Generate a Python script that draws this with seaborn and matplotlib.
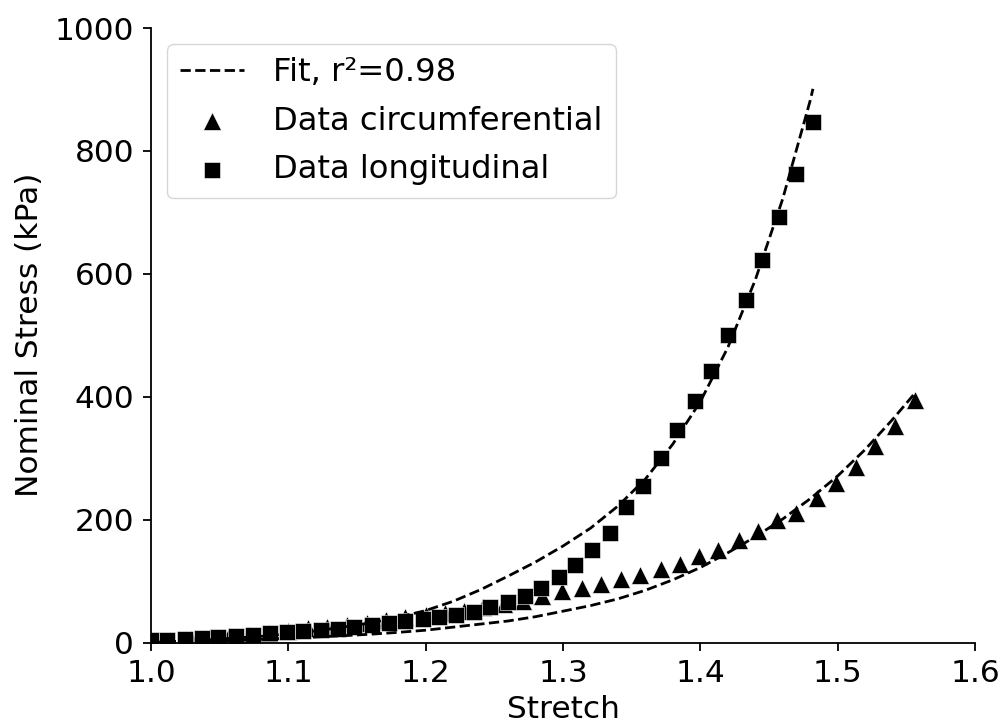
import numpy as np
import pandas as pd
import matplotlib
matplotlib.use("Agg")
import matplotlib.pyplot as plt
import seaborn as sns

# ---------------- data ----------------
# longitudinal data (squares)
long_stretch = [1.000, 1.012, 1.025, 1.037, 1.049, 1.062, 1.074, 1.087, 1.099, 1.111,
                1.124, 1.136, 1.148, 1.161, 1.173, 1.185, 1.198, 1.210, 1.222, 1.235,
                1.247, 1.260, 1.272, 1.284, 1.297, 1.309, 1.321, 1.334, 1.346, 1.358,
                1.371, 1.383, 1.396, 1.408, 1.420, 1.433, 1.445, 1.457, 1.470, 1.482]
long_stress = [4, 4, 5, 7, 9, 11, 13, 15, 17, 18,
               20, 22, 25, 28, 31, 35, 38, 41, 45, 50,
               58, 66, 75, 88, 106, 126, 151, 179, 221, 255,
               300, 346, 393, 442, 500, 558, 623, 693, 763, 847]

# circumferential data (triangles)
circ_stretch = [1.000, 1.014, 1.029, 1.043, 1.057, 1.071, 1.086, 1.100, 1.114, 1.128,
                1.143, 1.157, 1.171, 1.185, 1.200, 1.214, 1.228, 1.242, 1.257, 1.271,
                1.285, 1.299, 1.314, 1.328, 1.342, 1.356, 1.371, 1.385, 1.399, 1.413,
                1.428, 1.442, 1.456, 1.470, 1.485, 1.499, 1.513, 1.527, 1.542, 1.556]
circ_stress = [2, 4, 6, 8, 10, 13, 16, 19, 23, 26,
               28, 32, 36, 41, 45, 48, 52, 57, 63, 68,
               76, 83, 88, 96, 103, 110, 119, 128, 140, 151,
               166, 182, 200, 211, 235, 259, 286, 319, 353, 395]

# fit curves (dashed)
fit_long_stretch = [1.00, 1.02, 1.04, 1.06, 1.08, 1.10, 1.12, 1.14, 1.16, 1.18,
                    1.20, 1.22, 1.24, 1.26, 1.28, 1.30, 1.32, 1.34, 1.36, 1.38,
                    1.40, 1.42, 1.44, 1.46, 1.48, 1.482]
fit_long_stress = [0, 2, 4, 7, 10, 14, 19, 25, 32, 41,
                   52, 67, 86, 108, 131, 157, 186, 222, 266, 323,
                   392, 480, 590, 722, 882, 901]

fit_circ_stretch = [1.00, 1.02, 1.04, 1.06, 1.08, 1.10, 1.12, 1.14, 1.16, 1.18,
                    1.20, 1.22, 1.24, 1.26, 1.28, 1.30, 1.32, 1.34, 1.36, 1.38,
                    1.40, 1.42, 1.44, 1.46, 1.48, 1.50, 1.52, 1.54, 1.556]
fit_circ_stress = [0, 1, 2, 3.5, 5, 7, 9, 11, 13.5, 16.5,
                   20, 25, 30, 35, 42, 51, 60, 71, 85, 102,
                   122, 146, 172, 201, 234, 271, 314, 363, 405]

fit_label = "Fit, r²=0.98"
circ_label = "Data circumferential"
long_label = "Data longitudinal"
x_ticks = [1.0, 1.1, 1.2, 1.3, 1.4, 1.5, 1.6]
y_ticks = [0, 200, 400, 600, 800, 1000]

# ---------------- styling ----------------
sns.set_style("ticks")
FS = 22.5
LFS = 23.2
plt.rcParams.update({
    "font.family": ["DejaVu Sans"],
    "font.size": FS,
    "axes.linewidth": 1.3,
    "xtick.major.width": 1.3,
    "ytick.major.width": 1.3,
    "xtick.major.size": 5.5,
    "ytick.major.size": 5.5,
    "xtick.major.pad": 6.5,
    "ytick.major.pad": 6.5,
    "xtick.color": "black",
    "ytick.color": "black",
    "axes.edgecolor": "black",
    "text.color": "black",
    "axes.labelcolor": "black",
})

fig = plt.figure(figsize=(10.04, 7.27), dpi=100)
ax = fig.add_axes([151 / 1004, 1 - 642.5 / 727, (975 - 151) / 1004, (642.5 - 28) / 727])

fit_long = pd.DataFrame({"stretch": fit_long_stretch, "stress": fit_long_stress})
fit_circ = pd.DataFrame({"stretch": fit_circ_stretch, "stress": fit_circ_stress})
circ = pd.DataFrame({"stretch": circ_stretch, "stress": circ_stress})
longd = pd.DataFrame({"stretch": long_stretch, "stress": long_stress})

sns.lineplot(data=fit_long, x="stretch", y="stress", ax=ax, color="black",
             linestyle="--", linewidth=2.0, label=fit_label, sort=False)
sns.lineplot(data=fit_circ, x="stretch", y="stress", ax=ax, color="black",
             linestyle="--", linewidth=2.0, label="_nolegend_", sort=False)
sns.scatterplot(data=circ, x="stretch", y="stress", ax=ax, marker="^", s=165,
                color="black", edgecolor="white", linewidth=0.4, label=circ_label)
sns.scatterplot(data=longd, x="stretch", y="stress", ax=ax, marker="s", s=130,
                color="black", edgecolor="white", linewidth=0.4, label=long_label)

ax.set_xlim(1.0, 1.6)
ax.set_ylim(0, 1000)
ax.set_xticks(x_ticks)
ax.set_xticklabels([f"{t:.1f}" for t in x_ticks])
ax.set_yticks(y_ticks)
ax.set_xlabel("Stretch", fontsize=FS, labelpad=5)
ax.set_ylabel("Nominal Stress (kPa)", fontsize=FS, labelpad=8)
ax.tick_params(labelsize=FS)
sns.despine(ax=ax)

ax.legend(loc="upper left", fontsize=LFS, labelspacing=0.55, handletextpad=0.9)

fig.savefig("out.png", dpi=100)
